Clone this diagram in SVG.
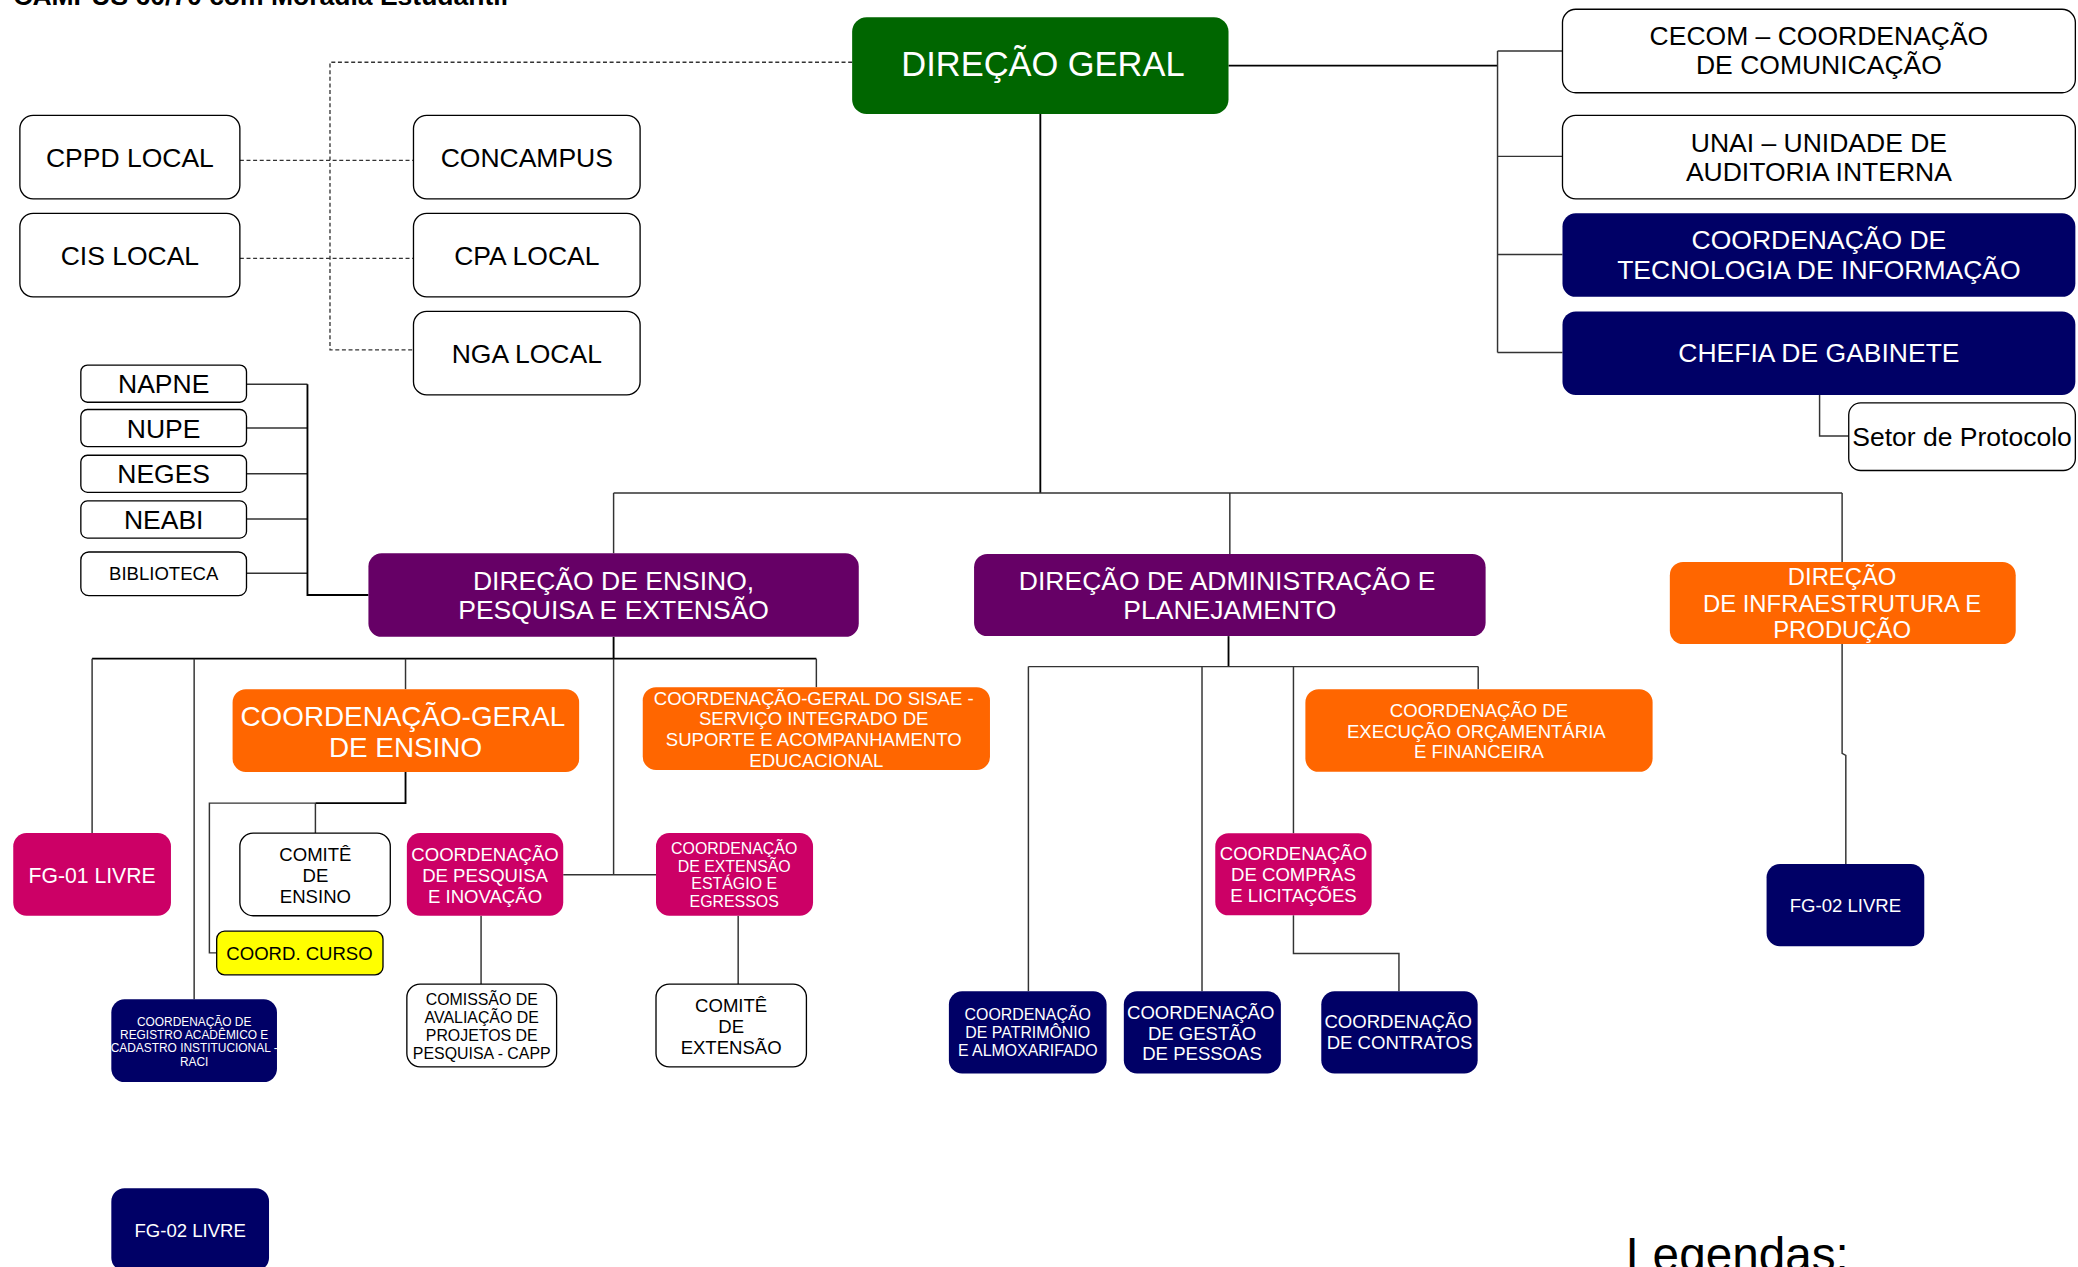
<svg xmlns="http://www.w3.org/2000/svg" width="2078" height="1267" viewBox="0 0 2078 1267">
<style>
text{font-family:"Liberation Sans",Arial,sans-serif;text-anchor:middle}
.w{fill:#ffffff;stroke:#000;stroke-width:1}
.g{fill:#006600}
.n{fill:#000066}
.p{fill:#660066}
.o{fill:#ff6600}
.m{fill:#cc0066}
.y{fill:#ffff00;stroke:#000;stroke-width:1}
.tw{fill:#ffffff}
.tb{fill:#000000}
.c{fill:none;stroke:#333;stroke-width:1.1}
.cb{fill:none;stroke:#000;stroke-width:1.4}
.d{fill:none;stroke:#333;stroke-width:1;stroke-dasharray:3 2}
</style>
<rect width="2078" height="1267" fill="#ffffff"/>
<g transform="scale(1.32526)">
<text x="10" y="3.5" style="text-anchor:start;font-weight:bold" font-size="20" class="tb">CAMPUS 60/70 com Moradia Estudantil</text>

<g id="connectors">
<path class="cb" d="M927 49.5 H1130"/>
<path class="c" d="M1130 38.5 V266 M1130 38.5 H1179 M1130 118 H1179 M1130 192 H1179 M1130 266 H1179"/>
<path class="c" d="M1373 298 V329 H1395"/>
<path class="cb" d="M785 86 V372"/>
<path class="c" d="M463 372 H1390 M463 372 V417.5 M928 372 V418 M1390 372 V424"/>
<path class="d" d="M643 47 H249 V264 H312 M181 121 H312 M181 195 H312"/>
<path class="c" d="M186 290 H232 M186 323 H232 M186 357.5 H232 M186 391.6 H232 M186 432.6 H232"/>
<path class="cb" d="M232 290 V449 H278"/>
<path class="cb" d="M463 480.5 V497 M69.5 497 H616"/>
<path class="c" d="M463 497 V660 M69.5 497 V628.6 M146.5 497 V754 M306 497 V520 M616 497 V518.5"/>
<path class="cb" d="M306 582.5 V606 H238"/>
<path class="c" d="M238 606 H158 V719 H163.5 M238 606 V628.6"/>
<path class="c" d="M425 660 H495"/>
<path class="c" d="M363 691 V742.6 M557 691 V742.6"/>
<path class="cb" d="M927 480 V503"/>
<path class="c" d="M776 503 H1115.4 M776 503 V748 M907 503 V748 M976 503 V628.7 M1115.4 503 V520"/>
<path class="c" d="M976 690.7 V719.5 H1055.6 V748"/>
<path class="c" d="M1390 486 V568.5 L1392.8 570 V652"/>
</g>

<g id="direcao-geral"><rect class="g" x="643" y="13" width="284" height="73" rx="11"/><text class="tw" x="787" y="57" font-size="26">DIREÇÃO GERAL</text></g>

<g id="cecom"><rect class="w" x="1179" y="7" width="387" height="63" rx="10"/><text class="tb" x="1372.5" font-size="20"><tspan x="1372.5" y="34">CECOM – COORDENAÇÃO</tspan><tspan x="1372.5" y="56">DE COMUNICAÇÃO</tspan></text></g>
<g id="unai"><rect class="w" x="1179" y="87" width="387" height="63" rx="10"/><text class="tb" x="1372.5" font-size="20"><tspan x="1372.5" y="114.5">UNAI – UNIDADE DE</tspan><tspan x="1372.5" y="136.5">AUDITORIA INTERNA</tspan></text></g>
<g id="coord-ti"><rect class="n" x="1179" y="161" width="387" height="63" rx="10"/><text class="tw" x="1372.5" font-size="20"><tspan x="1372.5" y="188">COORDENAÇÃO DE</tspan><tspan x="1372.5" y="210.5">TECNOLOGIA DE INFORMAÇÃO</tspan></text></g>
<g id="chefia-gabinete"><rect class="n" x="1179" y="235" width="387" height="63" rx="10"/><text class="tw" x="1372.5" y="273.5" font-size="20">CHEFIA DE GABINETE</text></g>
<g id="setor-protocolo"><rect class="w" x="1395" y="304" width="171" height="51" rx="9"/><text class="tb" x="1480.5" y="336.5" font-size="20">Setor de Protocolo</text></g>

<g id="cppd"><rect class="w" x="15" y="87" width="166" height="63" rx="10"/><text class="tb" x="98" y="125.8" font-size="20">CPPD LOCAL</text></g>
<g id="cis"><rect class="w" x="15" y="161" width="166" height="63" rx="10"/><text class="tb" x="98" y="200" font-size="20">CIS LOCAL</text></g>
<g id="concampus"><rect class="w" x="312" y="87" width="171" height="63" rx="10"/><text class="tb" x="397.5" y="125.8" font-size="20">CONCAMPUS</text></g>
<g id="cpa"><rect class="w" x="312" y="161" width="171" height="63" rx="10"/><text class="tb" x="397.5" y="200" font-size="20">CPA LOCAL</text></g>
<g id="nga"><rect class="w" x="312" y="235" width="171" height="63" rx="10"/><text class="tb" x="397.5" y="273.7" font-size="20">NGA LOCAL</text></g>

<g id="napne"><rect class="w" x="61" y="275.5" width="125" height="28" rx="5"/><text class="tb" x="123.5" y="296.7" font-size="20">NAPNE</text></g>
<g id="nupe"><rect class="w" x="61" y="309" width="125" height="28" rx="5"/><text class="tb" x="123.5" y="330.2" font-size="20">NUPE</text></g>
<g id="neges"><rect class="w" x="61" y="343.5" width="125" height="28" rx="5"/><text class="tb" x="123.5" y="364.7" font-size="20">NEGES</text></g>
<g id="neabi"><rect class="w" x="61" y="378" width="125" height="28" rx="5"/><text class="tb" x="123.5" y="399.2" font-size="20">NEABI</text></g>
<g id="biblioteca"><rect class="w" x="61" y="416.5" width="125" height="33" rx="6"/><text class="tb" x="123.5" y="438" font-size="14">BIBLIOTECA</text></g>

<g id="direcao-ensino"><rect class="p" x="278" y="417.5" width="370" height="63" rx="10"/><text class="tw" x="463" font-size="20"><tspan x="463" y="445.2">DIREÇÃO DE ENSINO,</tspan><tspan x="463" y="467.3">PESQUISA E EXTENSÃO</tspan></text></g>
<g id="direcao-administracao"><rect class="p" x="735" y="418" width="386" height="62" rx="10"/><text class="tw" x="928" font-size="20"><tspan x="926" y="445.2">DIREÇÃO DE ADMINISTRAÇÃO E</tspan><tspan x="928" y="467.3">PLANEJAMENTO</tspan></text></g>
<g id="direcao-infraestrutura"><rect class="o" x="1260" y="424" width="261" height="62" rx="10"/><text class="tw" x="1390" font-size="18"><tspan x="1390" y="441.2">DIREÇÃO</tspan><tspan x="1390" y="461.5">DE INFRAESTRUTURA E</tspan><tspan x="1390" y="481.5">PRODUÇÃO</tspan></text></g>

<g id="coord-geral-ensino"><rect class="o" x="175.5" y="520" width="261.5" height="62.5" rx="10"/><text class="tw" x="306" font-size="21"><tspan x="304" y="548">COORDENAÇÃO-GERAL</tspan><tspan x="306" y="571">DE ENSINO</tspan></text></g>
<g id="sisae"><rect class="o" x="485" y="518.5" width="262" height="62.5" rx="10"/><text class="tw" x="616" font-size="14"><tspan x="614" y="532">COORDENAÇÃO-GERAL DO SISAE -</tspan><tspan x="614" y="547">SERVIÇO INTEGRADO DE</tspan><tspan x="614" y="562.8">SUPORTE E ACOMPANHAMENTO</tspan><tspan x="616" y="578.6">EDUCACIONAL</tspan></text></g>
<g id="fg01"><rect class="m" x="10" y="628.6" width="119" height="62.4" rx="10"/><text class="tw" x="69.5" y="666" font-size="16">FG-01 LIVRE</text></g>
<g id="comite-ensino"><rect class="w" x="181" y="628.6" width="113.5" height="62.4" rx="10"/><text class="tb" x="238" font-size="14"><tspan x="238" y="650">COMITÊ</tspan><tspan x="238" y="665.5">DE</tspan><tspan x="238" y="681">ENSINO</tspan></text></g>
<g id="coord-curso"><rect class="y" x="163.5" y="702.6" width="125.5" height="33" rx="6"/><text class="tb" x="226" y="724.5" font-size="14">COORD. CURSO</text></g>
<g id="coord-pesquisa"><rect class="m" x="307" y="628.6" width="118" height="62.4" rx="10"/><text class="tw" x="366" font-size="14"><tspan x="366" y="650">COORDENAÇÃO</tspan><tspan x="366" y="665.5">DE PESQUISA</tspan><tspan x="366" y="681">E INOVAÇÃO</tspan></text></g>
<g id="coord-extensao"><rect class="m" x="495" y="628.6" width="118.5" height="62.4" rx="10"/><text class="tw" x="554" font-size="12"><tspan x="554" y="644.5">COORDENAÇÃO</tspan><tspan x="554" y="658">DE EXTENSÃO</tspan><tspan x="554" y="671">ESTÁGIO E</tspan><tspan x="554" y="684.6">EGRESSOS</tspan></text></g>
<g id="capp"><rect class="w" x="307" y="742.6" width="113" height="62.4" rx="10"/><text class="tb" x="363.5" font-size="12"><tspan x="363.5" y="758.5">COMISSÃO DE</tspan><tspan x="363.5" y="772">AVALIAÇÃO DE</tspan><tspan x="363.5" y="785.4">PROJETOS DE</tspan><tspan x="363.5" y="798.8">PESQUISA - CAPP</tspan></text></g>
<g id="comite-extensao"><rect class="w" x="495" y="742.6" width="113.5" height="62.4" rx="10"/><text class="tb" x="551.7" font-size="14"><tspan x="551.7" y="763.8">COMITÊ</tspan><tspan x="551.7" y="779.7">DE</tspan><tspan x="551.7" y="795">EXTENSÃO</tspan></text></g>
<g id="raci"><rect class="n" x="84" y="754" width="125" height="62.5" rx="10"/><text class="tw" x="146.5" font-size="9"><tspan x="146.5" y="774">COORDENAÇÃO DE</tspan><tspan x="146.5" y="784">REGISTRO ACADÊMICO E</tspan><tspan x="146.5" y="794">CADASTRO INSTITUCIONAL -</tspan><tspan x="146.5" y="804">RACI</tspan></text></g>
<g id="fg02-ensino"><rect class="n" x="84" y="896.6" width="119" height="62.4" rx="10"/><text class="tw" x="143.5" y="933.6" font-size="14">FG-02 LIVRE</text></g>

<g id="coeof"><rect class="o" x="985" y="520" width="262" height="62.4" rx="10"/><text class="tw" x="1116" font-size="14"><tspan x="1116" y="541.3">COORDENAÇÃO DE</tspan><tspan x="1114" y="556.7">EXECUÇÃO ORÇAMENTÁRIA</tspan><tspan x="1116" y="572">E FINANCEIRA</tspan></text></g>
<g id="coord-compras"><rect class="m" x="917" y="628.7" width="118" height="62" rx="10"/><text class="tw" x="976" font-size="14"><tspan x="976" y="649">COORDENAÇÃO</tspan><tspan x="976" y="665">DE COMPRAS</tspan><tspan x="976" y="680.5">E LICITAÇÕES</tspan></text></g>
<g id="coord-patrimonio"><rect class="n" x="716" y="748" width="119" height="62" rx="10"/><text class="tw" x="775.5" font-size="12"><tspan x="775.5" y="769.3">COORDENAÇÃO</tspan><tspan x="775.5" y="783.3">DE PATRIMÔNIO</tspan><tspan x="775.5" y="797">E ALMOXARIFADO</tspan></text></g>
<g id="coord-gestao-pessoas"><rect class="n" x="848" y="748" width="118.5" height="62" rx="10"/><text class="tw" x="907" font-size="14"><tspan x="906" y="769">COORDENAÇÃO</tspan><tspan x="907" y="785">DE GESTÃO</tspan><tspan x="907" y="800">DE PESSOAS</tspan></text></g>
<g id="coord-contratos"><rect class="n" x="997" y="748" width="118" height="62" rx="10"/><text class="tw" x="1056" font-size="14"><tspan x="1055" y="776">COORDENAÇÃO</tspan><tspan x="1056" y="791.6">DE CONTRATOS</tspan></text></g>
<g id="fg02-infra"><rect class="n" x="1333" y="652" width="119" height="62" rx="10"/><text class="tw" x="1392.5" y="688" font-size="14">FG-02 LIVRE</text></g>

<text class="tb" x="1227" y="959" style="text-anchor:start" font-size="36">Legendas:</text>
</g>
</svg>
